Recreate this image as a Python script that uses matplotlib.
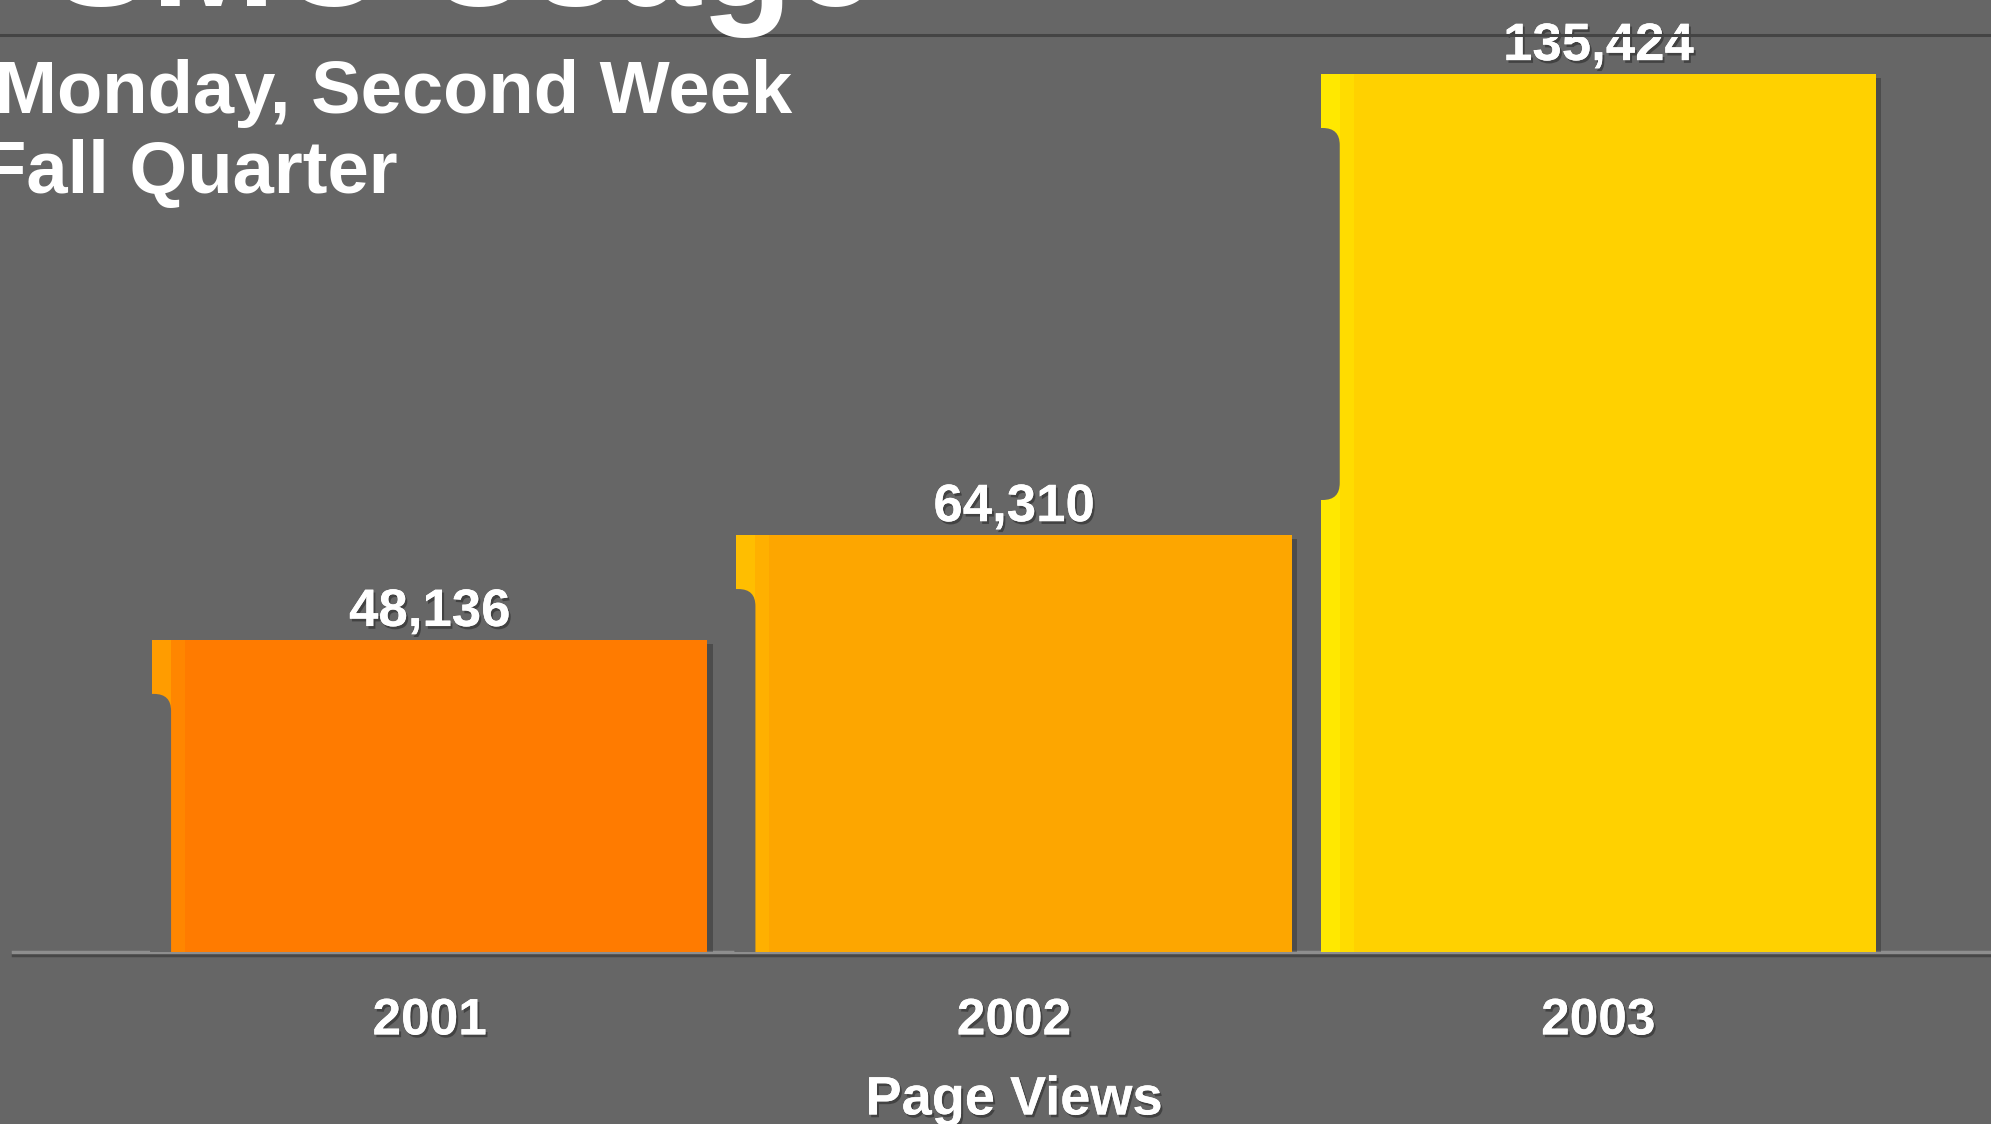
import numpy as np
import matplotlib
matplotlib.use("Agg")
import matplotlib.pyplot as plt
from matplotlib.path import Path
from matplotlib.patches import PathPatch, Rectangle
from matplotlib.transforms import IdentityTransform
from matplotlib.lines import Line2D
import matplotlib.patheffects as pe

# data
years = ["2001", "2002", "2003"]
page_views = [48136, 64310, 135424]
bar_colors = ["#FF7B00", "#FDA600", "#FFD100"]
tab_colors = ["#FF9C00", "#FFBE00", "#FFE800"]
mid_colors = ["#FF8600", "#FFB000", "#FFDC00"]

title = "SMC Usage"
subtitle_1 = "Monday, Second Week"
subtitle_2 = "Fall Quarter"
x_label = "Page Views"

bg = "#666666"
W, H = 1991, 1124
plt.rcParams["font.family"] = ["Liberation Sans", "DejaVu Sans"]
plt.rcParams["font.weight"] = "bold"

fig = plt.figure(figsize=(W / 100, H / 100), dpi=100, facecolor=bg)
# axes: from baseline (952px from top) up to the top rule
ax = fig.add_axes([13 / W, 172 / H, 1978 / W, (952 - 36) / H])
ax.set_facecolor(bg)
ax.set_xlim(-0.713, 2.672)
ax.set_ylim(0, max(page_views) * 916 / 878)

shadow_txt = [pe.withSimplePatchShadow(offset=(1.5, -2), shadow_rgbFace="black", alpha=0.35), pe.Normal()]

x = np.arange(len(years))
bars = ax.bar(x, page_views, width=0.95, color=bar_colors, zorder=3,
              path_effects=[pe.withSimplePatchShadow(offset=(4, -3), shadow_rgbFace="black", alpha=0.25), pe.Normal()])

fig.canvas.draw()
ident = IdentityTransform()
d, r, tab_h, notch_len = 19, 17, 54, 372
for rect, tc, mc in zip(bars, tab_colors, mid_colors):
    x0, yb = ax.transData.transform((rect.get_x(), 0))
    _, yt = ax.transData.transform((rect.get_x(), rect.get_height()))
    # light stripes on the left of each bar
    ax.add_patch(Rectangle((x0, yb), d, yt - yb, facecolor=tc, edgecolor="none",
                           transform=ident, zorder=4))
    ax.add_patch(Rectangle((x0 + d, yb), 14, yt - yb, facecolor=mc, edgecolor="none",
                           transform=ident, zorder=4))
    # notch cut into the left edge below the tab
    top_n = yt - tab_h
    bot_n = top_n - notch_len
    verts = [(x0 - 2, top_n), (x0 + d - r, top_n), (x0 + d, top_n), (x0 + d, top_n - r)]
    codes = [Path.MOVETO, Path.LINETO, Path.CURVE3, Path.CURVE3]
    if bot_n > yb:
        verts += [(x0 + d, bot_n + r), (x0 + d, bot_n), (x0 + d - r, bot_n), (x0 - 2, bot_n)]
        codes += [Path.LINETO, Path.CURVE3, Path.CURVE3, Path.LINETO]
    else:
        verts += [(x0 + d, yb - 1), (x0 - 2, yb - 1)]
        codes += [Path.LINETO, Path.LINETO]
    verts.append((x0 - 2, top_n))
    codes.append(Path.CLOSEPOLY)
    ax.add_patch(PathPatch(Path(verts, codes), facecolor=bg, edgecolor="none",
                           transform=ident, zorder=5))

for rect, v in zip(bars, page_views):
    ax.annotate(f"{v:,}", (rect.get_x() + rect.get_width() / 2, v), xytext=(0, 10),
                textcoords="offset points", ha="center", va="baseline",
                fontsize=38, color="white", fontweight="bold", path_effects=shadow_txt, zorder=6)

ax.set_xticks(x, years)
ax.tick_params(axis="x", length=0, pad=32, labelsize=37, labelcolor="white")
for t in ax.get_xticklabels():
    t.set_fontweight("bold")
    t.set_path_effects(shadow_txt)
ax.set_yticks([])
for s in ["top", "left", "right"]:
    ax.spines[s].set_visible(False)
ax.spines["bottom"].set_color("#8E8E8E")
ax.spines["bottom"].set_linewidth(2.5)
ax.spines["bottom"].set_zorder(2)
ax.spines["bottom"].set_path_effects([pe.SimpleLineShadow(offset=(0, -2), shadow_color="black", alpha=0.3),
                                      pe.Normal()])

ax.annotate(x_label, (x[1], 0), xytext=(0, -117), textcoords="offset points",
            ha="center", va="baseline", fontsize=39, color="white", fontweight="bold",
            path_effects=shadow_txt, annotation_clip=False)

# top rule and headings
fig.add_artist(Line2D([0, 1], [1 - 35 / H, 1 - 35 / H], color="#444444", linewidth=2.2))
fig.text(876 / W, 1 - 6 / H, title, ha="right", va="baseline", fontsize=108,
         color="white", fontweight="bold")
fig.text(-5 / W, 1 - 113 / H, subtitle_1, ha="left", va="baseline", fontsize=53.5,
         color="white", fontweight="bold")
fig.text(-19 / W, 1 - 193 / H, subtitle_2, ha="left", va="baseline", fontsize=53.5,
         color="white", fontweight="bold")

fig.savefig("out.png", dpi=100, facecolor=bg)
